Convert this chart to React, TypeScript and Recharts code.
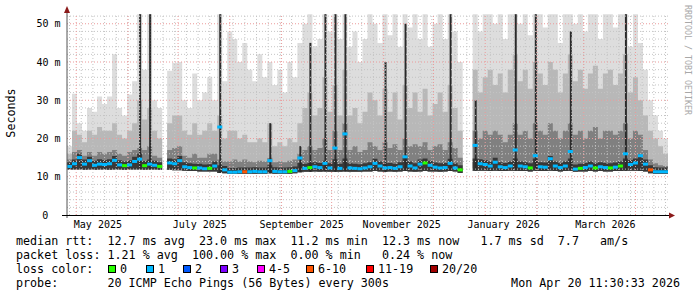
import React from 'react';
import { ComposedChart, Area, Bar, Scatter, XAxis, YAxis, ReferenceLine } from 'recharts';

// time axis: days since Apr 25 2025 11:30 (graph spans 360 days)
const START = Date.UTC(2025, 3, 25, 11, 30);
const DAY_MS = 86400000;
const dayOf = (y: number, m: number, d: number) => (Date.UTC(y, m - 1, d) - START) / DAY_MS;
const SPAN_DAYS = 360;
const STEP_DAYS = 3;
const Y_MAX = 52.55;

// one value per 3-day step (ms)
const medianRtt = [
  12.7, 13.4, 15.0, 13.3, 14.2, 13.0, 13.3, 13.2, 13.4, 14.3,
  13.1, 12.9, 13.1, 14.0, 14.6, 12.9, 13.3, 13.0, 12.7, null,
  13.6, 13.4, 14.2, 12.6, 12.4, 12.3, 12.3, 12.1, 12.2, 12.8,
  23.0, 11.8, 11.2, 11.2, 11.3, 11.3, 11.3, 11.4, 11.3, 11.3,
  14.2, 11.4, 11.3, 11.3, 11.4, 11.6, 14.9, 12.2, 12.4, 12.6,
  12.4, 13.5, 12.3, 17.5, 12.2, 21.2, 12.3, 12.2, 12.1, 12.3,
  12.6, 13.5, 12.8, 12.3, 12.4, 12.2, 12.6, 15.2, 12.8, 12.3,
  13.3, 13.6, 13.0, 12.5, 12.3, 12.4, 13.5, 12.3, 11.8, null,
  null, 18.2, 13.4, 13.2, 12.8, 13.8, 12.6, 12.4, 12.8, 17.0,
  12.8, 12.6, 12.3, 15.5, 12.6, 12.5, 14.7, 12.8, 12.4, 12.8,
  16.6, 12.0, 12.2, 12.4, 12.8, 12.3, 12.6, 12.4, 12.3, 12.5,
  12.8, 16.0, 13.2, 13.6, 15.5, 13.3, 11.8, 11.3, 11.3, 11.3,
];

// lost pings out of 20
const lossCount = [
  1, 1, 1, 1, 1, 1, 1, 1, 1, 1,
  1, 0, 1, 1, 1, 0, 1, 1, 0, null,
  1, 1, 1, 1, 1, 0, 1, 1, 0, 1,
  1, 1, 1, 1, 1, 7, 1, 1, 1, 1,
  1, 1, 1, 1, 0, 1, 1, 1, 0, 1,
  1, 1, 1, 1, 1, 1, 1, 1, 1, 1,
  1, 1, 1, 1, 1, 1, 1, 1, 1, 1,
  1, 0, 1, 1, 1, 1, 1, 1, 0, null,
  null, 1, 1, 1, 1, 1, 1, 1, 1, 1,
  1, 1, 0, 1, 1, 1, 1, 1, 1, 1,
  1, 1, 0, 1, 1, 0, 1, 1, 0, 1,
  0, 1, 1, 1, 1, 1, 7, 1, 1, 1,
];

// smoke bands (ms)
const smokeLow = [
  11.9, 11.9, 11.9, 11.8, 11.9, 11.8, 11.9, 11.9, 11.8, 11.9,
  11.9, 11.8, 11.9, 11.9, 11.9, 11.8, 11.9, 11.9, 11.8, null,
  11.8, 11.7, 11.7, 11.6, 11.5, 11.5, 11.4, 11.4, 11.4, 11.4,
  11.0, 10.9, 10.8, 10.8, 10.8, 10.8, 10.8, 10.8, 10.8, 10.8,
  10.9, 10.8, 10.8, 10.8, 10.8, 10.9, 11.2, 11.3, 11.3, 11.4,
  11.3, 11.4, 11.3, 11.3, 11.3, 11.4, 11.3, 11.3, 11.3, 11.4,
  11.4, 11.5, 11.4, 11.3, 11.4, 11.3, 11.4, 11.5, 11.4, 11.3,
  11.4, 11.5, 11.4, 11.4, 11.3, 11.4, 11.5, 11.4, 11.0, null,
  null, 11.6, 11.6, 11.6, 11.5, 11.6, 11.5, 11.5, 11.6, 11.6,
  11.5, 11.5, 11.4, 11.6, 11.5, 11.5, 11.6, 11.5, 11.4, 11.5,
  11.6, 11.3, 11.4, 11.4, 11.5, 11.4, 11.5, 11.4, 11.4, 11.5,
  11.5, 11.6, 11.6, 11.6, 11.5, 11.4, 10.9, 10.8, 10.8, 10.8,
];

const smokeCore = [
  13.8, 14.5, 16.0, 14.5, 15.2, 14.2, 14.6, 14.4, 14.6, 15.4,
  14.3, 14.0, 14.3, 15.2, 16.0, 14.1, 14.5, 14.2, 13.8, null,
  14.8, 14.6, 15.4, 13.8, 13.5, 13.4, 13.4, 13.2, 13.3, 14.0,
  13.0, 12.8, 12.3, 12.3, 12.4, 12.4, 12.4, 12.5, 12.4, 12.4,
  13.0, 12.5, 12.4, 12.4, 12.5, 12.7, 13.6, 13.4, 13.6, 13.8,
  13.6, 14.2, 13.5, 14.6, 13.4, 14.8, 13.5, 13.4, 13.3, 13.5,
  13.8, 14.7, 14.0, 13.5, 13.6, 13.4, 13.8, 15.0, 14.0, 13.5,
  14.5, 14.8, 14.2, 13.7, 13.5, 13.6, 14.7, 13.5, 13.0, null,
  null, 14.8, 14.6, 14.4, 14.0, 15.0, 13.8, 13.6, 14.0, 14.8,
  14.0, 13.8, 13.5, 14.8, 13.8, 13.7, 15.4, 14.0, 13.6, 14.0,
  14.8, 13.2, 13.4, 13.6, 14.0, 13.5, 13.8, 13.6, 13.5, 13.7,
  14.0, 14.8, 14.4, 14.8, 15.8, 14.5, 13.0, 12.5, 12.4, 12.4,
];

const smokeDark = [
  14.5, 16.5, 17, 15.5, 16.5, 15.5, 16.5, 16, 16.5, 17,
  16, 15.5, 16.5, 17, 17.5, 17, 18, 15.5, 15, null,
  17, 17.5, 18, 15.5, 15, 16, 15, 15, 16, 16,
  14.5, 14, 14, 14.5, 14, 14.5, 14, 13.8, 14.2, 14,
  15, 13.8, 14, 13.8, 14.2, 14.5, 16, 17, 18, 17,
  17.5, 20, 17, 22, 17, 24, 17, 18, 16.5, 17,
  19, 18, 17, 19, 17.5, 18.5, 17, 20, 18, 18.5,
  18, 19, 17, 18, 18.5, 17, 19, 17.5, 15, null,
  null, 22, 20, 22, 21, 22, 21, 19, 21, 24,
  21, 22, 20, 24, 22, 21, 24, 22, 20, 22,
  24, 21, 22, 20, 22, 23, 20, 22, 22, 21,
  22, 24, 20, 22, 21, 17, 14.5, 13.5, 13, 12.8,
];

const smokeMid = [
  16, 22, 21, 19, 22, 21, 23, 22, 22, 24,
  21, 20, 22, 24, 30, 25, 28, 22, 20, null,
  24, 26, 26, 22, 21, 24, 21, 22, 24, 22,
  26, 20, 22, 22, 20, 21, 19, 19, 20, 19,
  24, 18, 19, 18, 20, 19, 24, 28, 32, 26,
  28, 36, 27, 34, 26, 38, 26, 28, 24, 27,
  32, 30, 26, 33, 27, 32, 25, 34, 28, 32,
  27, 33, 26, 29, 32, 27, 34, 28, 22, null,
  null, 38, 32, 36, 38, 34, 37, 32, 38, 42,
  35, 38, 33, 40, 37, 34, 40, 38, 32, 37,
  42, 35, 38, 33, 37, 39, 33, 37, 38, 34,
  37, 42, 32, 36, 30, 26, 22, 20, 18, 16,
];

const smokeMax = [
  18, 31.7, 24, 22, 28, 27, 31, 29, 31, 42,
  28, 26, 31.5, 35, 52.5, 38, 52.5, 30, 28, null,
  37.7, 39.8, 40, 30, 28, 37, 30, 32, 36, 30,
  52.5, 35, 48, 46, 40, 45, 38, 35, 42, 36,
  40, 34, 38, 32, 40, 36, 45, 50, 52.5, 44,
  46, 52.5, 48, 52.5, 46, 52.5, 44, 48, 40, 46,
  52.5, 50, 45, 52.5, 47, 52.5, 44, 52.5, 49, 52.5,
  46, 52.5, 44, 50, 52.5, 46, 52.5, 48, 40, null,
  null, 52.5, 48, 52.5, 52.5, 50, 52.5, 46, 52.5, 52.5,
  50, 52.5, 47, 52.5, 52.5, 49, 52.5, 52.5, 45, 52.5,
  52.5, 50, 52.5, 48, 52.5, 52.5, 46, 52.5, 52.5, 49,
  52.5, 52.5, 44, 52.5, 45, 38, 30, 26, 22, 20,
];

// short bursts where every ping of the step was slow (thin dark streaks)
const spikeTop = [
  null, null, null, null, null, null, null, null, null, null,
  null, null, null, null, 52.5, null, 52.5, null, null, null,
  null, null, null, null, null, null, null, null, null, null,
  52.5, null, null, null, null, null, null, null, null, null,
  24, null, null, null, null, null, 18, null, 45, null,
  null, 52.5, null, 52.5, null, 52.5, null, null, null, null,
  null, null, null, 40, null, null, null, 50, null, null,
  null, null, null, null, null, null, 52.5, null, null, null,
  null, 30, null, null, null, null, null, null, null, 52.5,
  null, null, null, 52.5, null, null, null, null, null, null,
  48, null, null, null, null, null, null, null, null, null,
  null, 52.5, null, null, null, null, null, null, null, null,
];

const monthStarts: [number, number, number][] = [
  [2025, 5, 1], [2025, 6, 1], [2025, 7, 1], [2025, 8, 1], [2025, 9, 1], [2025, 10, 1],
  [2025, 11, 1], [2025, 12, 1], [2026, 1, 1], [2026, 2, 1], [2026, 3, 1], [2026, 4, 1],
];
const labelDates: [number, number, number][] = [
  [2025, 5, 14], [2025, 7, 14], [2025, 9, 13], [2025, 11, 12], [2026, 1, 12], [2026, 3, 14],
];
const labelTexts = ['May 2025', 'July 2025', 'September 2025', 'November 2025', 'January 2026', 'March 2026'];
const firstSunday: [number, number, number] = [2025, 4, 27];
const yTicks = [0, 10, 20, 30, 40, 50];

const lossLabels = ['0', '1', '2', '3', '4-5', '6-10', '11-19', '20/20'];
const lossColors = ['#26ff00', '#00b8ff', '#0059ff', '#7e00ff', '#ff00ff', '#ff5500', '#ff0000', '#a10000'];

const MONO = '"DejaVu Sans Mono", monospace';
const PLOT_W = 601;
const COL_PX = (STEP_DAYS * PLOT_W) / SPAN_DAYS;

const lossBucket = (n: number) => (n <= 3 ? n : n <= 5 ? 4 : n <= 10 ? 5 : n <= 19 ? 6 : 7);

// step table: a closing row before every gap and at the end
type Row = {
  day: number;
  low: number | null;
  core: number | null;
  dark: number | null;
  mid: number | null;
  max: number | null;
  spike: number | null;
};
const rows: Row[] = [];
smokeMax.forEach((mx, i) => {
  const day = i * STEP_DAYS;
  if (mx == null) {
    rows.push({ day, low: null, core: null, dark: null, mid: null, max: null, spike: null });
    return;
  }
  const r = { day, low: smokeLow[i], core: smokeCore[i], dark: smokeDark[i], mid: smokeMid[i], max: mx, spike: spikeTop[i] };
  rows.push(r);
  if (i === smokeMax.length - 1 || smokeMax[i + 1] == null) rows.push({ ...r, day: day + STEP_DAYS, spike: null });
});

const medianPoints = medianRtt
  .map((v, i) => (v == null ? null : { day: i * STEP_DAYS, median: v, loss: lossCount[i] as number }))
  .filter(Boolean) as { day: number; median: number; loss: number }[];

const band = (key: keyof Row) => (d: Row) => (d[key] == null ? null : [d.low, d[key]]);

const weekDays: number[] = [];
for (let d = dayOf(...firstSunday); d < SPAN_DAYS; d += 7) weekDays.push(d);
const monthDays = monthStarts.map((m) => dayOf(...m));
const labelDays = labelDates.map((m) => dayOf(...m));
const minorY: number[] = [];
for (let v = 2; v < Y_MAX; v += 2) if (v % 10 !== 0) minorY.push(v);

const MedianMark = (props: any) => {
  const { cx, cy, payload } = props;
  if (cx == null || cy == null) return null;
  return <rect x={cx} y={cy - 1.5} width={COL_PX} height={3} fill={lossColors[lossBucket(payload.loss)]} />;
};

const XTick = (props: any) => {
  const { x, payload } = props;
  return (
    <text x={x} y={228} textAnchor="middle" fontFamily={MONO} fontSize={10} fill="#000">
      {labelTexts[labelDays.indexOf(payload.value)]}
    </text>
  );
};

const YTick = (props: any) => {
  const { y, payload } = props;
  const v = payload.value;
  return (
    <text x={v === 0 ? 48.3 : 60.5} y={y + 3.7} textAnchor="end" fontFamily={MONO} fontSize={10} fill="#000">
      {v === 0 ? '0' : `${v} m`}
    </text>
  );
};

const GRID = '#c4c4c4';
const MGRID = '#eb9a9a';

export default function App() {
  const legendX = [108, 146, 183, 220, 257, 306, 366, 430];
  return (
    <div style={{ position: 'absolute', left: 0, top: 0, width: 697, height: 297, background: '#fff' }}>
      <ComposedChart
        width={697}
        height={297}
        data={rows}
        margin={{ top: 14, right: 29, bottom: 52, left: 7 }}
        barGap={0}
        barCategoryGap={0}
      >
        <XAxis
          dataKey="day"
          type="number"
          domain={[0, SPAN_DAYS]}
          ticks={labelDays}
          interval={0}
          tick={<XTick />}
          tickLine={false}
          axisLine={false}
          height={30}
          allowDataOverflow
        />
        <XAxis
          xAxisId="spk"
          dataKey={(d: Row) => d.day + STEP_DAYS / 2}
          type="number"
          domain={[0, SPAN_DAYS]}
          hide
          allowDataOverflow
        />
        <YAxis
          type="number"
          domain={[0, Y_MAX]}
          ticks={yTicks}
          interval={0}
          tick={<YTick />}
          tickLine={false}
          axisLine={false}
          width={60}
          allowDataOverflow
        />
        <Area dataKey={band('max')} type="stepAfter" fill="#dddddd" fillOpacity={1} stroke="none" dot={false} activeDot={false} isAnimationActive={false} />
        <Area dataKey={band('mid')} type="stepAfter" fill="#b8b8b8" fillOpacity={1} stroke="none" dot={false} activeDot={false} isAnimationActive={false} />
        <Area dataKey={band('dark')} type="stepAfter" fill="#808080" fillOpacity={1} stroke="none" dot={false} activeDot={false} isAnimationActive={false} />
        <Area dataKey={band('core')} type="stepAfter" fill="#383838" fillOpacity={1} stroke="none" dot={false} activeDot={false} isAnimationActive={false} />
        <Bar
          xAxisId="spk"
          dataKey={(d: Row) => (d.spike == null ? null : [d.low, d.spike])}
          barSize={2}
          fill="#2a2a2a"
          isAnimationActive={false}
        />
        {minorY.map((v) => (
          <ReferenceLine key={`hy${v}`} y={v} stroke={GRID} strokeDasharray="1 2" />
        ))}
        {weekDays.map((d) => (
          <ReferenceLine key={`wx${d}`} x={d} stroke={GRID} strokeDasharray="1 2" />
        ))}
        {yTicks.filter((v) => v > 0).map((v) => (
          <ReferenceLine key={`my${v}`} y={v} stroke={MGRID} strokeDasharray="1 2" />
        ))}
        {monthDays.map((d) => (
          <ReferenceLine key={`mx${d}`} x={d} stroke={MGRID} strokeDasharray="1 2" />
        ))}
        <Scatter data={medianPoints} dataKey="median" shape={<MedianMark />} isAnimationActive={false} />
      </ComposedChart>

      <svg width={697} height={297} style={{ position: 'absolute', left: 0, top: 0, pointerEvents: 'none' }}>
        {/* axes + arrows */}
        <line x1={67} y1={9} x2={67} y2={218} stroke="#555" strokeWidth={1} />
        <line x1={62} y1={215.5} x2={671} y2={215.5} stroke="#000" strokeWidth={1} />
        <polygon points="64,13 70,13 67,6" fill="#8b1a1a" />
        <polygon points="669,212.5 669,218.5 675,215.5" fill="#8b1a1a" />

        <text transform="translate(15,113) rotate(-90)" textAnchor="middle" fontFamily={MONO} fontSize={11.7} fill="#000">
          Seconds
        </text>
        <text transform="translate(685,5) rotate(90)" fontFamily={MONO} fontSize={8.3} fill="#a8a8a8">
          RRDTOOL / TOBI OETIKER
        </text>

        <g fontFamily={MONO} fontSize={11.7} fill="#000" style={{ whiteSpace: 'pre' }}>
          <text x={16} y={245} xmlSpace="preserve">
            {'median rtt:  12.7 ms avg  23.0 ms max  11.2 ms min  12.3 ms now   1.7 ms sd  7.7   am/s'}
          </text>
          <text x={16} y={259} xmlSpace="preserve">
            {'packet loss: 1.21 % avg  100.00 % max  0.00 % min   0.24 % now'}
          </text>
          <text x={16} y={273} xmlSpace="preserve">
            {'loss color:'}
          </text>
          {lossLabels.map((lab, i) => (
            <g key={lab}>
              <rect x={legendX[i] + 0.5} y={265.5} width={7} height={7} fill={lossColors[i]} stroke="#000" strokeWidth={1} />
              <text x={legendX[i] + 12} y={273}>{lab}</text>
            </g>
          ))}
          <text x={16} y={287} xmlSpace="preserve">
            {'probe:       20 ICMP Echo Pings (56 Bytes) every 300s'}
          </text>
          <text x={680} y={287} textAnchor="end">
            Mon Apr 20 11:30:33 2026
          </text>
        </g>
      </svg>
    </div>
  );
}
